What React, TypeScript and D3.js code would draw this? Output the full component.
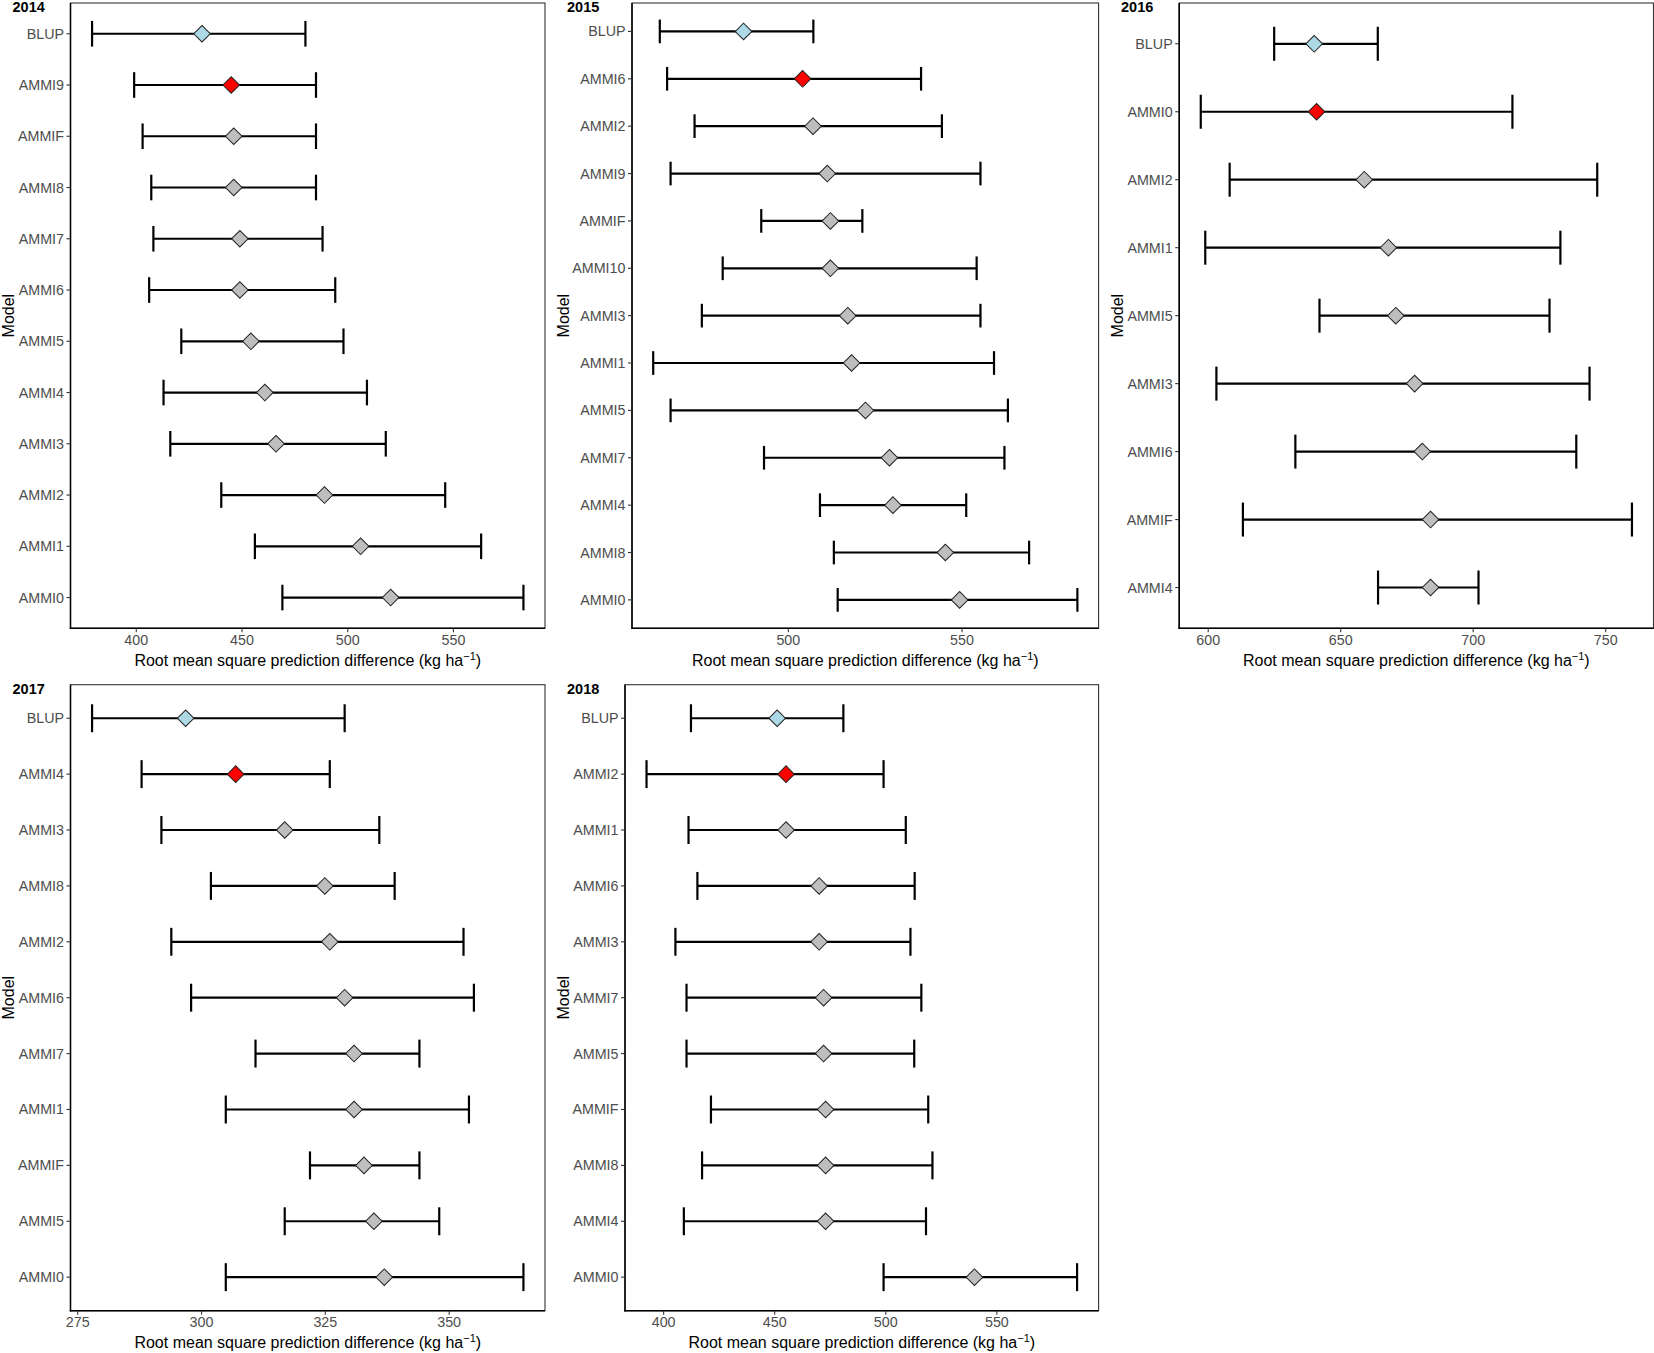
import * as d3 from "d3";

// ---- data ----
const models2014 = ["BLUP", "AMMI9", "AMMIF", "AMMI8", "AMMI7", "AMMI6", "AMMI5", "AMMI4", "AMMI3", "AMMI2", "AMMI1", "AMMI0"];
const mean2014 = [431.1, 444.9, 446.1, 446.1, 449.0, 449.0, 454.2, 460.8, 466.1, 489.0, 506.1, 520.3];
const lower2014 = [379.1, 399.0, 403.0, 407.1, 408.1, 406.1, 421.3, 412.9, 416.1, 440.2, 456.1, 469.1];
const upper2014 = [480.0, 485.0, 485.0, 485.0, 488.1, 494.1, 498.0, 509.1, 518.0, 546.1, 563.1, 583.1];
const ticks2014 = [400, 450, 500, 550];

const models2015 = ["BLUP", "AMMI6", "AMMI2", "AMMI9", "AMMIF", "AMMI10", "AMMI3", "AMMI1", "AMMI5", "AMMI7", "AMMI4", "AMMI8", "AMMI0"];
const mean2015 = [487.1, 504.1, 507.1, 511.2, 512.1, 512.1, 517.1, 518.2, 522.2, 529.1, 530.1, 545.2, 549.3];
const lower2015 = [463.0, 465.1, 473.0, 466.1, 492.2, 481.1, 475.1, 461.1, 466.1, 493.0, 509.1, 513.1, 514.2];
const upper2015 = [507.2, 538.2, 544.2, 555.3, 521.3, 554.2, 555.3, 559.2, 563.2, 562.2, 551.2, 569.3, 583.2];
const ticks2015 = [500, 550];

const models2016 = ["BLUP", "AMMI0", "AMMI2", "AMMI1", "AMMI5", "AMMI3", "AMMI6", "AMMIF", "AMMI4"];
const mean2016 = [640.0, 640.9, 658.9, 668.0, 670.8, 677.9, 680.8, 683.9, 683.9];
const lower2016 = [624.9, 597.2, 608.1, 598.9, 642.0, 603.1, 632.9, 613.1, 664.1];
const upper2016 = [664.0, 714.8, 746.8, 732.9, 728.8, 743.9, 738.9, 759.9, 702.0];
const ticks2016 = [600, 650, 700, 750];

const models2017 = ["BLUP", "AMMI4", "AMMI3", "AMMI8", "AMMI2", "AMMI6", "AMMI7", "AMMI1", "AMMIF", "AMMI5", "AMMI0"];
const mean2017 = [296.8, 306.9, 316.8, 324.9, 325.9, 328.9, 330.8, 330.8, 332.8, 334.8, 336.9];
const lower2017 = [277.9, 287.9, 291.9, 301.9, 293.9, 297.9, 310.9, 304.9, 321.9, 316.8, 304.9];
const upper2017 = [328.9, 325.9, 335.9, 339.0, 352.9, 355.0, 344.0, 354.0, 344.0, 348.0, 365.0];
const ticks2017 = [275, 300, 325, 350];

const models2018 = ["BLUP", "AMMI2", "AMMI1", "AMMI6", "AMMI3", "AMMI7", "AMMI5", "AMMIF", "AMMI8", "AMMI4", "AMMI0"];
const mean2018 = [451.1, 455.1, 455.1, 470.0, 470.0, 472.0, 472.0, 472.9, 472.9, 472.9, 539.9];
const lower2018 = [412.3, 392.3, 411.2, 415.2, 405.3, 410.3, 410.3, 421.3, 417.3, 409.1, 499.0];
const upper2018 = [480.9, 499.0, 509.0, 513.0, 511.1, 516.0, 512.8, 519.1, 521.0, 518.1, 586.1];
const ticks2018 = [400, 450, 500, 550];

// best AMMI model of each year (drawn in red)
const best = { "2014": "AMMI9", "2015": "AMMI6", "2016": "AMMI0", "2017": "AMMI4", "2018": "AMMI2" };

const years = ["2014", "2015", "2016", "2017", "2018"];
const modelsByYear = [models2014, models2015, models2016, models2017, models2018];
const meanByYear = [mean2014, mean2015, mean2016, mean2017, mean2018];
const lowerByYear = [lower2014, lower2015, lower2016, lower2017, lower2018];
const upperByYear = [upper2014, upper2015, upper2016, upper2017, upper2018];
const ticksByYear = [ticks2014, ticks2015, ticks2016, ticks2017, ticks2018];

// ---- layout (pixels) ----
const layout = [
  { x0: 70.5, x1: 545, y0: 3, y1: 628.3, titleX: 12.5, modelX: 8.4 },
  { x0: 632, x1: 1098.6, y0: 3, y1: 628.3, titleX: 567, modelX: 563.5 },
  { x0: 1179.2, x1: 1653.5, y0: 3, y1: 628.3, titleX: 1121, modelX: 1117 },
  { x0: 70.5, x1: 545, y0: 684.7, y1: 1310.7, titleX: 12.5, modelX: 8.4 },
  { x0: 625, x1: 1098.6, y0: 684.7, y1: 1310.7, titleX: 567, modelX: 563.5 },
];

const FONT = "'Liberation Sans', Arial, Helvetica, sans-serif";
const diamond = d3.symbol(d3.symbolSquare, 138)();

function Panel({ idx }: { idx: number }) {
  const year = years[idx];
  const models = modelsByYear[idx];
  const mean = meanByYear[idx];
  const lower = lowerByYear[idx];
  const upper = upperByYear[idx];
  const ticks = ticksByYear[idx];
  const L = layout[idx];

  const lo = d3.min(lower) as number;
  const hi = d3.max(upper) as number;
  const pad = (hi - lo) * 0.05;
  const x = d3.scaleLinear().domain([lo - pad, hi + pad]).range([L.x0, L.x1]);
  const y = d3.scalePoint<string>().domain(models).range([L.y0, L.y1]).padding(0.6);
  const capHalf = (y.step() * 0.5) / 2;
  const cy = (L.y0 + L.y1) / 2;
  const cx = (L.x0 + L.x1) / 2;

  return (
    <g>
      <text x={L.titleX} y={L.y0 + 9} fontFamily={FONT} fontWeight="bold" fontSize={14.5} fill="#000">
        {year}
      </text>
      <rect x={L.x0} y={L.y0} width={L.x1 - L.x0} height={L.y1 - L.y0} fill="#fff" stroke="#333" strokeWidth={1.1} />
      <line x1={L.x0} x2={L.x0} y1={L.y0} y2={L.y1 + 0.7} stroke="#000" strokeWidth={1.5} />
      <line x1={L.x0 - 0.7} x2={L.x1} y1={L.y1} y2={L.y1} stroke="#000" strokeWidth={1.5} />

      {models.map((m) => (
        <g key={m}>
          <line x1={L.x0 - 4} x2={L.x0} y1={y(m)} y2={y(m)} stroke="#333" strokeWidth={1.1} />
          <text x={L.x0 - 6.5} y={(y(m) as number) + 5} textAnchor="end" fontFamily={FONT} fontSize={14.3} fill="#4D4D4D">
            {m}
          </text>
        </g>
      ))}

      {ticks.map((t) => (
        <g key={t}>
          <line x1={x(t)} x2={x(t)} y1={L.y1} y2={L.y1 + 4} stroke="#333" strokeWidth={1.1} />
          <text x={x(t)} y={L.y1 + 16.5} textAnchor="middle" fontFamily={FONT} fontSize={14.3} fill="#4D4D4D">
            {t}
          </text>
        </g>
      ))}

      {models.map((m, i) => {
        const yy = y(m) as number;
        return (
          <g key={"e" + m} stroke="#000" strokeWidth={2.2}>
            <line x1={x(lower[i])} x2={x(upper[i])} y1={yy} y2={yy} />
            <line x1={x(lower[i])} x2={x(lower[i])} y1={yy - capHalf} y2={yy + capHalf} />
            <line x1={x(upper[i])} x2={x(upper[i])} y1={yy - capHalf} y2={yy + capHalf} />
          </g>
        );
      })}

      {models.map((m, i) => {
        const fill = m === "BLUP" ? "#ADD8E6" : m === best[year] ? "#FF0000" : "#BEBEBE";
        return (
          <path
            key={"p" + m}
            d={diamond as string}
            transform={`translate(${x(mean[i])},${y(m)}) rotate(45)`}
            fill={fill}
            stroke="#222"
            strokeWidth={1}
          />
        );
      })}

      <text x={cx} y={L.y1 + 37.5} textAnchor="middle" fontFamily={FONT} fontSize={16} fill="#000">
        Root mean square prediction difference (kg ha
        <tspan fontSize={11} dy={-6}>−1</tspan>
        <tspan dy={6}>)</tspan>
      </text>
      <text
        transform={`translate(${L.modelX},${cy}) rotate(-90)`}
        dy="0.35em"
        textAnchor="middle"
        fontFamily={FONT}
        fontSize={16}
        fill="#000"
      >
        Model
      </text>
    </g>
  );
}

export default function App() {
  return (
    <svg
      width={1654}
      height={1353}
      style={{ position: "absolute", left: 0, top: 0, background: "#fff" }}
    >
      <rect width={1654} height={1353} fill="#fff" />
      {years.map((yr, i) => (
        <Panel key={yr} idx={i} />
      ))}
    </svg>
  );
}
